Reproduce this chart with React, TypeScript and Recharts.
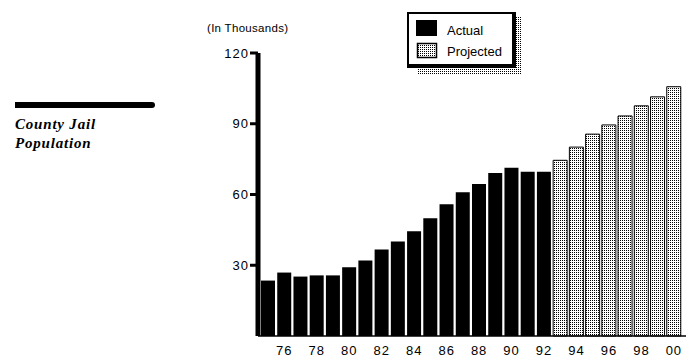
import { BarChart, Bar, XAxis, YAxis } from 'recharts';

const years = [
  '75', '76', '77', '78', '79', '80', '81', '82', '83', '84', '85', '86', '87',
  '88', '89', '90', '91', '92', '93', '94', '95', '96', '97', '98', '99', '00',
];

// 1975-1992, in thousands
const actual = [
  23.5, 26.9, 25.2, 25.7, 25.7, 29.1, 32.0, 36.7, 40.1, 44.4, 49.9, 55.9, 61.0,
  64.4, 69.1, 71.3, 69.6, 69.6,
];

// 1993-2000
const projected = [74.5, 80.1, 85.6, 89.5, 93.3, 97.6, 101.4, 105.7];

const yTicks = [30, 60, 90, 120];

const data = years.map((year, i) => ({
  year,
  actual: i < actual.length ? actual[i] : null,
  projected: i >= actual.length ? projected[i - actual.length] : null,
}));

const sans = '"Liberation Sans", Arial, sans-serif';

function StippleDefs({ id }: { id: string }) {
  return (
    <pattern id={id} x={0} y={0} width={2} height={2} patternUnits="userSpaceOnUse">
      <rect x={0} y={0} width={2} height={2} fill="#fff" />
      <rect x={0} y={0} width={1} height={1} fill="#000" />
    </pattern>
  );
}

function LegendBox() {
  return (
    <svg width={120} height={70} style={{ display: 'block' }}>
      <defs>
        <StippleDefs id="legendDots" />
      </defs>
      {/* drop shadow */}
      <rect x={11} y={6} width={105} height={57} fill="url(#legendDots)" />
      <rect x={1} y={1} width={109} height={56} fill="#fff" />
      <rect x={1} y={1} width={2} height={56} fill="#000" />
      <rect x={1} y={1} width={109} height={2} fill="#000" />
      <rect x={106} y={1} width={4} height={56} fill="#000" />
      <rect x={1} y={53} width={109} height={4} fill="#000" />
      <rect x={10} y={9} width={21} height={16} fill="#000" />
      <text x={41} y={24} fontFamily={sans} fontSize={13} fill="#000">
        Actual
      </text>
      <rect x={11.5} y={32.5} width={19} height={14} fill="url(#legendDots)" stroke="#000" strokeWidth={1.5} />
      <text x={41} y={45} fontFamily={sans} fontSize={13} fill="#000">
        Projected
      </text>
    </svg>
  );
}

export default function App() {
  return (
    <div style={{ position: 'absolute', left: 0, top: 0, width: 699, height: 360, background: '#fff' }}>
      <div
        style={{
          position: 'absolute',
          left: 15,
          top: 102,
          width: 140,
          height: 6,
          background: '#000',
          borderRadius: '0 3px 3px 0',
        }}
      />
      <div
        style={{
          position: 'absolute',
          left: 15,
          top: 115,
          fontFamily: '"Liberation Serif", "Times New Roman", serif',
          fontWeight: 'bold',
          fontStyle: 'italic',
          fontSize: 15,
          lineHeight: '19px',
          letterSpacing: 0.8,
          color: '#000',
        }}
      >
        County Jail
        <br />
        Population
      </div>
      <div
        style={{
          position: 'absolute',
          left: 207,
          top: 22,
          fontFamily: sans,
          fontSize: 11.5,
          letterSpacing: 0.3,
          color: '#000',
        }}
      >
        (In Thousands)
      </div>
      <BarChart
        width={699}
        height={360}
        data={data}
        margin={{ top: 53, right: 13, bottom: 0, left: 200 }}
        barCategoryGap={0}
      >
        <defs>
          <StippleDefs id="barDots" />
        </defs>
        <XAxis
          dataKey="year"
          height={24}
          interval={0}
          padding={{ left: 2, right: 4 }}
          tickFormatter={(v: string, i: number) => (i % 2 === 1 ? v : '')}
          axisLine={{ stroke: '#000', strokeWidth: 1.5 }}
          tickLine={false}
          tickSize={6}
          tickMargin={4}
          tick={{ fill: '#000', fontSize: 13, fontFamily: sans, letterSpacing: 1 }}
        />
        <YAxis
          width={58}
          domain={[0, 120]}
          ticks={yTicks}
          interval={0}
          axisLine={{ stroke: '#000', strokeWidth: 5 }}
          tickLine={{ stroke: '#000', strokeWidth: 3 }}
          tickSize={8}
          tickMargin={1}
          tick={{ fill: '#000', fontSize: 13, fontFamily: sans, letterSpacing: 1 }}
        />
        <Bar dataKey="actual" stackId="a" fill="#000" barSize={14} isAnimationActive={false} />
        <Bar
          dataKey="projected"
          stackId="a"
          fill="url(#barDots)"
          stroke="#000"
          strokeWidth={1}
          barSize={14}
          isAnimationActive={false}
        />
      </BarChart>
      <div style={{ position: 'absolute', left: 406, top: 11 }}>
        <LegendBox />
      </div>
    </div>
  );
}
